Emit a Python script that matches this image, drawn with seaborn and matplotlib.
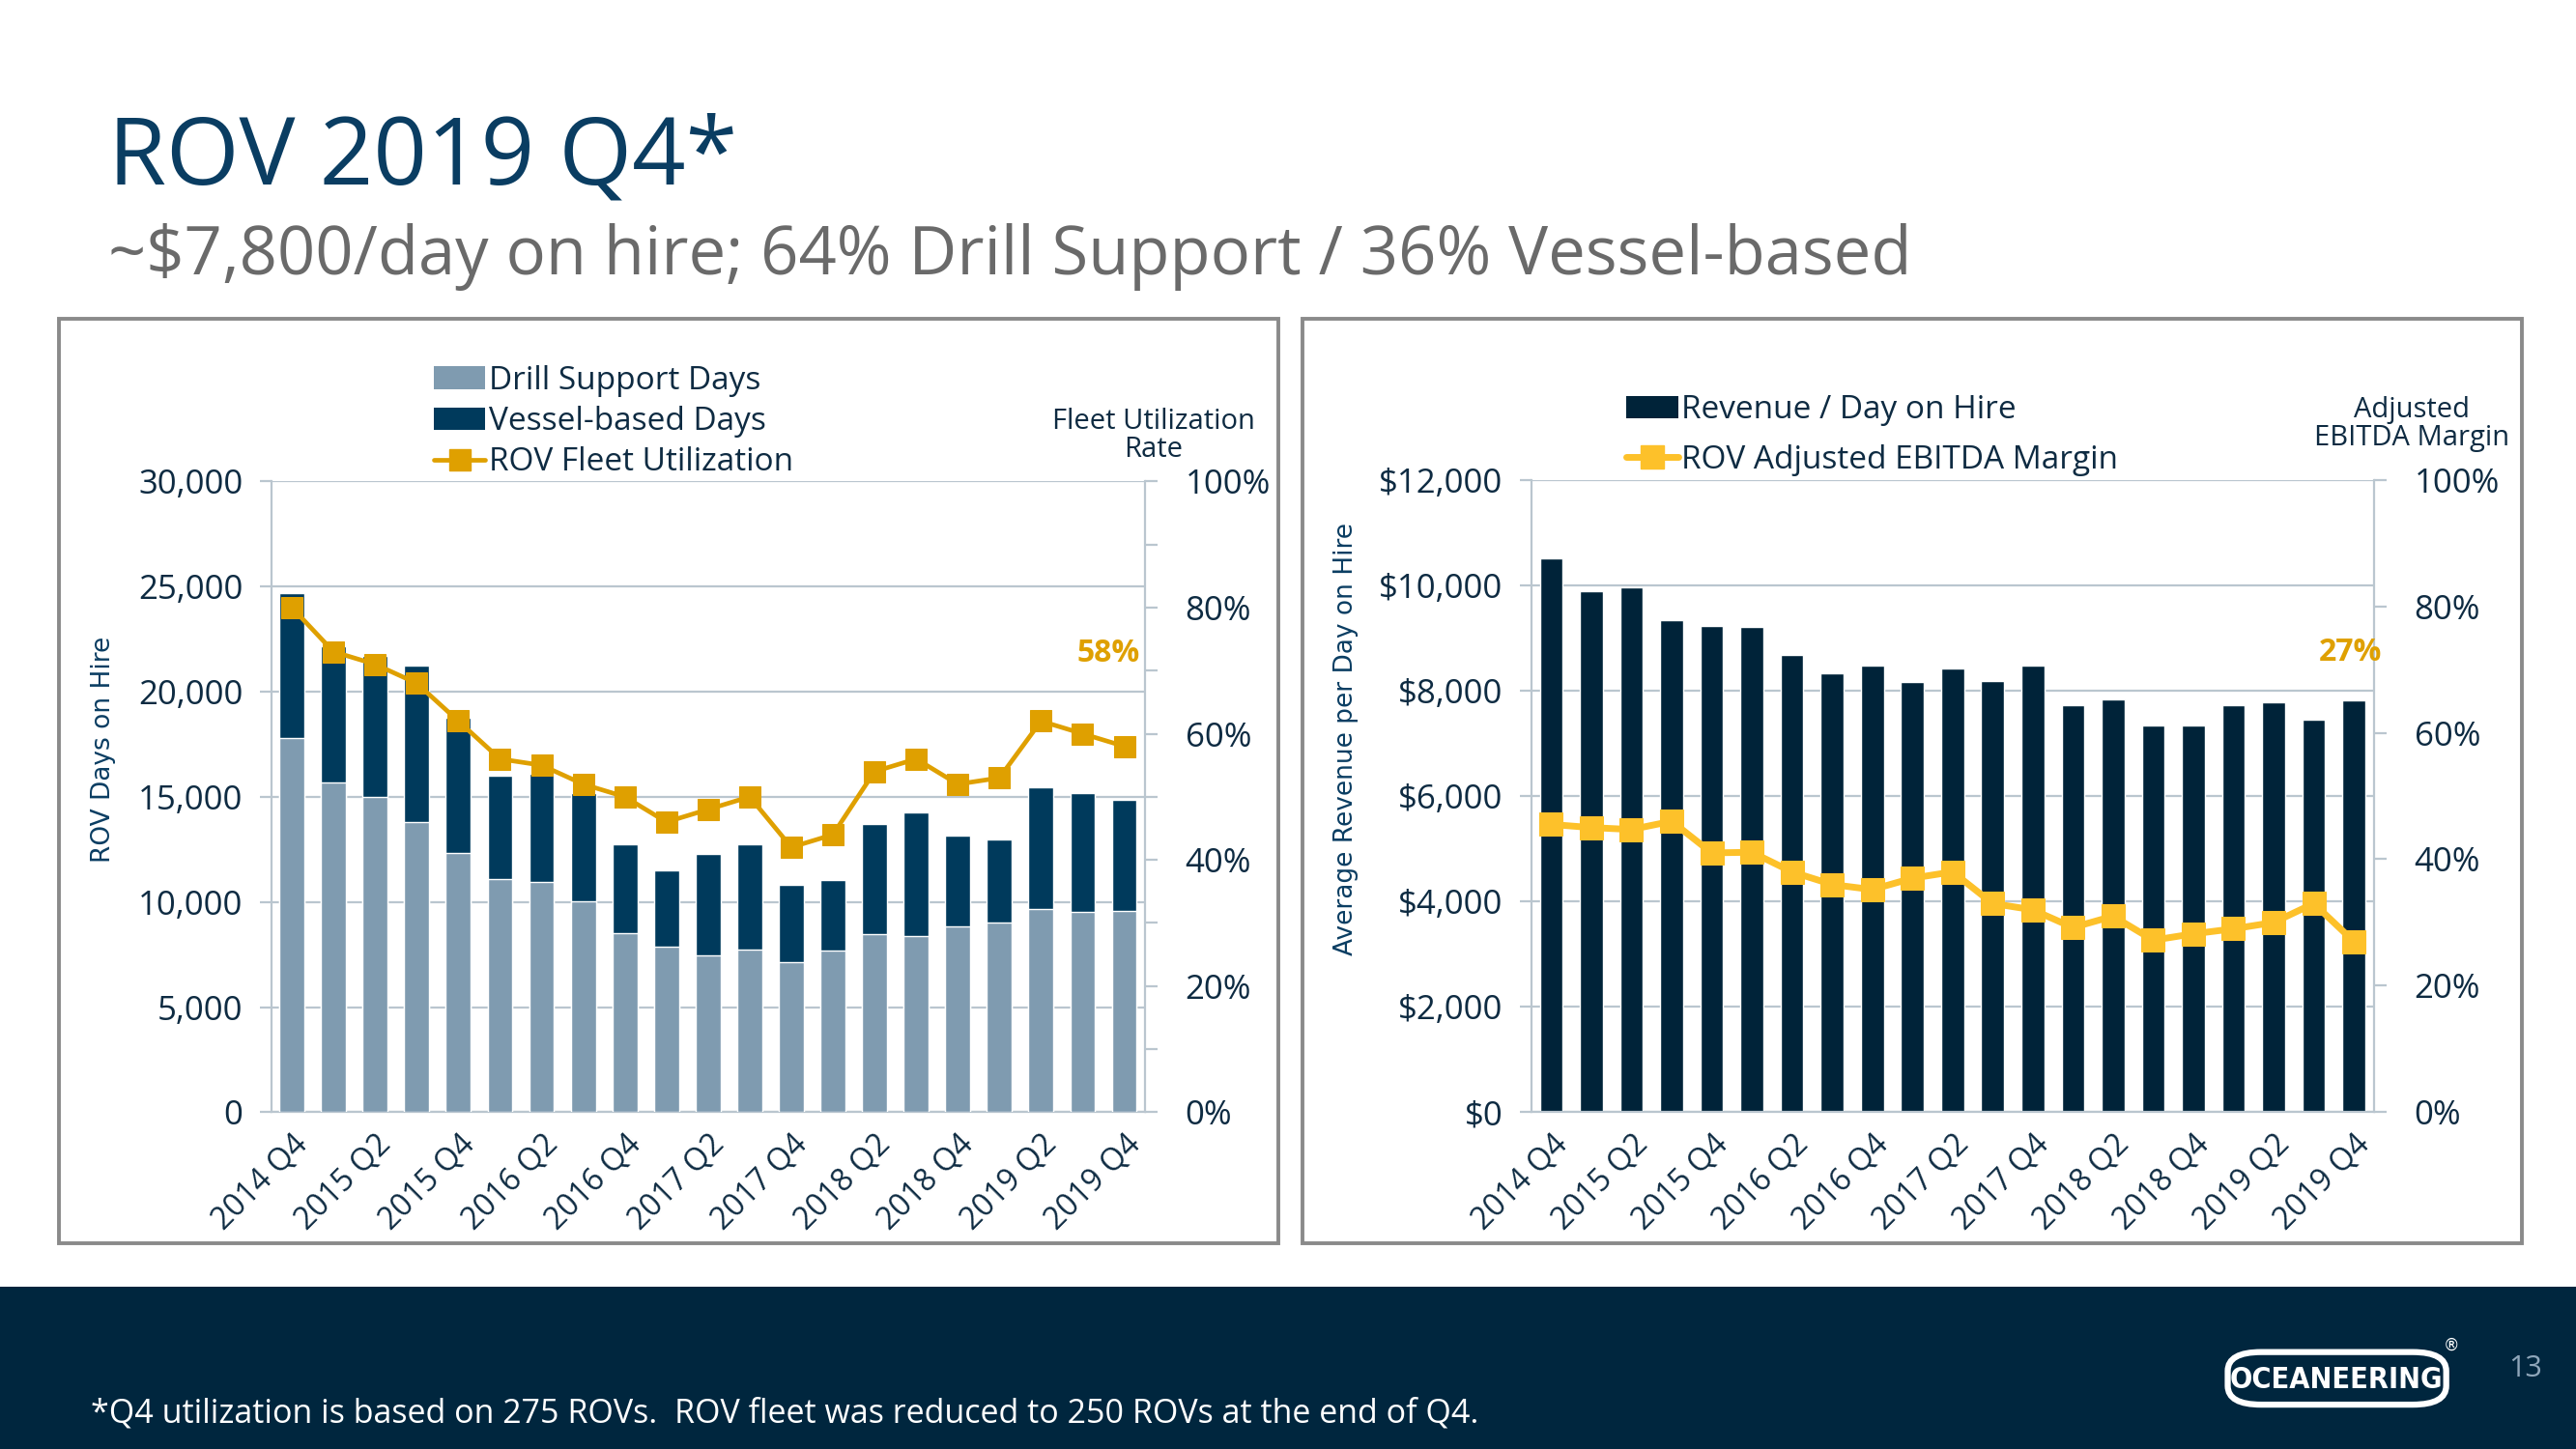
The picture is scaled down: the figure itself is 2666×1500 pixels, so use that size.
import numpy as np
import pandas as pd
import matplotlib
matplotlib.use("Agg")
import matplotlib.pyplot as plt
import seaborn as sns
from matplotlib.patches import Rectangle, Patch, FancyBboxPatch
from matplotlib.lines import Line2D
from matplotlib.ticker import FuncFormatter, MultipleLocator, FixedLocator

# ---------------- data ----------------
quarters = ["2014 Q4", "2015 Q1", "2015 Q2", "2015 Q3", "2015 Q4", "2016 Q1", "2016 Q2",
            "2016 Q3", "2016 Q4", "2017 Q1", "2017 Q2", "2017 Q3", "2017 Q4", "2018 Q1",
            "2018 Q2", "2018 Q3", "2018 Q4", "2019 Q1", "2019 Q2", "2019 Q3", "2019 Q4"]
drill_support_days = [17800, 15700, 14980, 13800, 12320, 11100, 10940, 10020, 8510, 7860, 7450,
                      7730, 7140, 7700, 8460, 8370, 8830, 9020, 9660, 9520, 9570]
vessel_based_days = [6870, 6440, 6740, 7420, 6440, 4920, 5140, 5160, 4240, 3630, 4820,
                     5020, 3660, 3340, 5230, 5890, 4320, 3940, 5790, 5640, 5280]
fleet_utilization = [80, 73, 71, 68, 62, 56, 55, 52, 50, 46, 48, 50, 42, 44, 54, 56, 52, 53, 62, 60, 58]
revenue_per_day = [10500, 9890, 9950, 9330, 9230, 9210, 8670, 8330, 8470, 8160, 8420, 8180,
                   8470, 7730, 7840, 7340, 7330, 7720, 7770, 7440, 7820]
ebitda_margin = [45.5, 45, 44.7, 46, 41, 41.1, 38, 36, 35.2, 37, 38, 33, 32, 29.2, 31, 27.2,
                 28.2, 29, 30, 33, 27]

total_days = [d + v for d, v in zip(drill_support_days, vessel_based_days)]
df_left = pd.DataFrame({"quarter": quarters, "drill": drill_support_days,
                        "total": total_days, "util": fleet_utilization})
df_right = pd.DataFrame({"quarter": quarters, "rev": revenue_per_day, "margin": ebitda_margin})

# ---------------- style ----------------
sns.set_theme(style="white")
FONT = ["Open Sans", "DejaVu Sans"]
plt.rcParams["font.family"] = FONT

W, H = 1568.0, 882.0  # reference coords (shrunk)
def fx(x): return x / W
def fy(y): return 1 - y / H

NAVY_TXT = "#0E2B42"
TITLE_C = "#0A3D62"
GRID_C = "#BAC6CF"
DRILL_C = "#7F9BB0"
VESSEL_C = "#003A5C"
GOLD_L = "#DFA000"
BAR_R = "#002339"
GOLD_R = "#FDC12A"
FOOT_C = "#00263E"
TICK_FS = 25
XTICK_FS = 23
LEG_FS = 24

fig = plt.figure(figsize=(26.66, 15.0), dpi=100)
fig.patch.set_facecolor("white")

# footer band
fig.patches.append(Rectangle((0, 0), 1, fy(783), transform=fig.transFigure,
                             facecolor=FOOT_C, edgecolor="none", zorder=0))
# panel frames
for x0, x1 in [(36, 778), (793, 1535)]:
    fig.patches.append(Rectangle((fx(x0), fy(757)), fx(x1) - fx(x0), fy(194) - fy(757),
                                 transform=fig.transFigure, facecolor="none",
                                 edgecolor="#8A8A8A", linewidth=2.8, zorder=0))

# titles
fig.text(fx(66), fy(112), "ROV 2019 Q4*", fontsize=70, color=TITLE_C, va="baseline", ha="left")
fig.text(fx(66), fy(167), "~$7,800/day on hire; 64% Drill Support / 36% Vessel-based",
         fontsize=49.5, color="#6A6A6A", va="baseline", ha="left")


def style_common(ax, axr, right_minor=True):
    ax.set_xlim(-0.5, len(quarters) - 0.5)
    ax.set_xlabel("")
    ax.set_ylabel("")
    for s in ["top", "right"]:
        ax.spines[s].set_visible(False)
    ax.spines["left"].set_color(GRID_C)
    ax.spines["bottom"].set_color(GRID_C)
    ax.spines["left"].set_linewidth(1.6)
    ax.spines["bottom"].set_linewidth(1.6)
    ax.grid(axis="y", color=GRID_C, linewidth=1.6)
    ax.set_axisbelow(True)
    ax.set_xticks(range(len(quarters)))
    ax.set_xticklabels([q if i % 2 == 0 else "" for i, q in enumerate(quarters)],
                       rotation=45, ha="right", rotation_mode="anchor",
                       fontsize=XTICK_FS, color=NAVY_TXT)
    ax.xaxis.set_minor_locator(FixedLocator(np.arange(-0.5, len(quarters), 1.0)))
    ax.tick_params(axis="x", which="major", length=0, pad=12)
    ax.tick_params(axis="x", which="minor", length=9, width=1.6, color=GRID_C, direction="out")
    ax.tick_params(axis="y", which="major", length=9, width=1.6, color=GRID_C,
                  labelsize=TICK_FS, labelcolor=NAVY_TXT, pad=12, left=True)
    for s in ["top", "left", "bottom"]:
        axr.spines[s].set_visible(False)
    axr.spines["right"].set_color(GRID_C)
    axr.spines["right"].set_linewidth(1.6)
    axr.set_ylim(0, 100)
    axr.set_yticks(np.arange(0, 101, 20))
    axr.yaxis.set_major_formatter(FuncFormatter(lambda v, p: f"{v:.0f}%"))
    if right_minor:
        axr.yaxis.set_minor_locator(MultipleLocator(10))
        axr.tick_params(axis="y", which="minor", length=9, width=1.6, color=GRID_C, right=True)
    axr.tick_params(axis="y", which="major", length=9, width=1.6, color=GRID_C,
                    labelsize=TICK_FS, labelcolor=NAVY_TXT, pad=21, right=True)
    axr.grid(False)
    axr.set_ylabel("")
    axr.set_xlabel("")


# ---------------- left chart ----------------
axL = fig.add_axes([fx(165), fy(677), fx(697) - fx(165), fy(293) - fy(677)])
sns.barplot(data=df_left, x="quarter", y="total", color=VESSEL_C, saturation=1,
            width=0.6, errorbar=None, ax=axL, zorder=2)
sns.barplot(data=df_left, x="quarter", y="drill", color=DRILL_C, saturation=1,
            width=0.6, errorbar=None, ax=axL, zorder=3)
axL.set_ylim(0, 30000)
axL.set_yticks(np.arange(0, 30001, 5000))
axL.yaxis.set_major_formatter(FuncFormatter(lambda v, p: f"{v:,.0f}"))
axL2 = axL.twinx()
sns.lineplot(x=np.arange(len(quarters)), y=df_left["util"], ax=axL2, color=GOLD_L,
             linewidth=3.4, marker="s", markersize=16, markeredgecolor=GOLD_L,
             markerfacecolor=GOLD_L, zorder=5)
style_common(axL, axL2, right_minor=True)
axL2.set_xlim(-0.5, len(quarters) - 0.5)

leg_handles = [Patch(facecolor=DRILL_C, edgecolor="none"),
               Patch(facecolor=VESSEL_C, edgecolor="none"),
               Line2D([0], [0], color=GOLD_L, lw=3.4, marker="s", markersize=16)]
legL = fig.legend(leg_handles, ["Drill Support Days", "Vessel-based Days", "ROV Fleet Utilization"],
                  loc="upper left", bbox_to_anchor=(fx(264), fy(222)), bbox_transform=fig.transFigure,
                  frameon=False, fontsize=LEG_FS, handlelength=1.6, handleheight=0.7,
                  handletextpad=0.1, labelspacing=0.28, borderpad=0, borderaxespad=0)
for t in legL.get_texts():
    t.set_color(NAVY_TXT)

fig.text(fx(702), fy(265), "Fleet Utilization\nRate", fontsize=21, color=NAVY_TXT,
         ha="center", va="center", linespacing=1.0)
fig.text(fx(694), fy(398), "58%", fontsize=23, color=GOLD_L, fontweight="bold",
         ha="right", va="center")
fig.text(fx(63), fy(456), "ROV Days on Hire", fontsize=19, color=TITLE_C, rotation=90,
         ha="center", va="center", family=["DejaVu Sans"])

# ---------------- right chart ----------------
axR = fig.add_axes([fx(932), fy(677), fx(1445) - fx(932), fy(292) - fy(677)])
sns.barplot(data=df_right, x="quarter", y="rev", color=BAR_R, saturation=1,
            width=0.57, errorbar=None, ax=axR, zorder=2)
axR.set_ylim(0, 12000)
axR.set_yticks(np.arange(0, 12001, 2000))
axR.yaxis.set_major_formatter(FuncFormatter(lambda v, p: f"${v:,.0f}"))
axR2 = axR.twinx()
sns.lineplot(x=np.arange(len(quarters)), y=df_right["margin"], ax=axR2, color=GOLD_R,
             linewidth=5, marker="s", markersize=17, markeredgecolor=GOLD_R,
             markerfacecolor=GOLD_R, zorder=5)
style_common(axR, axR2, right_minor=False)
axR2.set_xlim(-0.5, len(quarters) - 0.5)

legR = fig.legend([Patch(facecolor=BAR_R, edgecolor="none"),
                   Line2D([0], [0], color=GOLD_R, lw=5, marker="s", markersize=17)],
                  ["Revenue / Day on Hire", "ROV Adjusted EBITDA Margin"],
                  loc="upper left", bbox_to_anchor=(fx(990), fy(240)), bbox_transform=fig.transFigure,
                  frameon=False, fontsize=LEG_FS, handlelength=1.6, handleheight=0.7,
                  handletextpad=0.1, labelspacing=0.56, borderpad=0, borderaxespad=0)
for t in legR.get_texts():
    t.set_color(NAVY_TXT)

fig.text(fx(1468), fy(258), "Adjusted\nEBITDA Margin", fontsize=21, color=NAVY_TXT,
         ha="center", va="center", linespacing=1.0)
fig.text(fx(1450), fy(397), "27%", fontsize=23, color=GOLD_L, fontweight="bold",
         ha="right", va="center")
fig.text(fx(819), fy(450), "Average Revenue per Day on Hire", fontsize=19, color=TITLE_C,
         rotation=90, ha="center", va="center", family=["DejaVu Sans"])

# ---------------- footer ----------------
fig.text(fx(55), fy(866), "*Q4 utilization is based on 275 ROVs.  ROV fleet was reduced to 250 ROVs at the end of Q4.",
         fontsize=24.5, color="white", ha="left", va="baseline")
logo = FancyBboxPatch((fx(1356), fy(855)), fx(1489) - fx(1356), fy(823) - fy(855),
                      boxstyle="round,pad=0,rounding_size=0.013", transform=fig.transFigure,
                      facecolor=FOOT_C, edgecolor="white", linewidth=4.5, zorder=2)
fig.patches.append(logo)
fig.text(fx(1422), fy(840), "OCEANEERING", fontsize=22, color="white", fontweight="bold",
         ha="center", va="center", family=["DejaVu Sans"], fontstretch="condensed", zorder=3)
fig.text(fx(1492), fy(819), "®", fontsize=12, color="white", ha="center", va="center",
         family=["DejaVu Sans"])
fig.text(fx(1537), fy(833), "13", fontsize=22, color="#8FA6BA", ha="center", va="center")

fig.savefig("out.png", dpi=100, facecolor="white")
